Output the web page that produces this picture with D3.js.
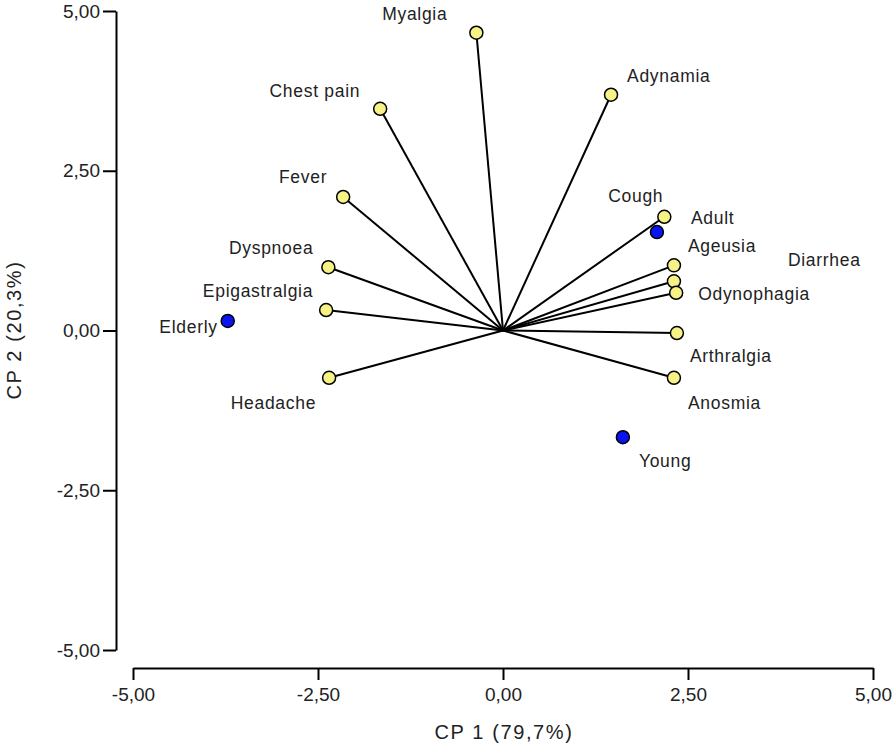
<!DOCTYPE html>
<html>
<head>
<meta charset="utf-8">
<script src="https://cdn.jsdelivr.net/npm/d3@7"></script>
<style>
  body { margin: 0; background: #fff; }
  text { font-family: "Liberation Sans", Arial, sans-serif; fill: #222; }
</style>
</head>
<body>
<div id="chart"></div>
<script>
// Variable loadings (symptoms) on CP 1 / CP 2
var symptoms = ["Myalgia", "Chest pain", "Adynamia", "Fever", "Cough", "Dyspnoea", "Ageusia",
  "Diarrhea", "Odynophagia", "Epigastralgia", "Arthralgia", "Headache", "Anosmia"];
var symptomCP1 = [-0.36, -1.66, 1.46, -2.16, 2.18, -2.36, 2.31, 2.31, 2.34, -2.39, 2.35, -2.35, 2.31];
var symptomCP2 = [4.66, 3.47, 3.69, 2.09, 1.78, 0.99, 1.02, 0.77, 0.59, 0.32, -0.04, -0.74, -0.74];

// Age groups (scores)
var groups = ["Elderly", "Adult", "Young"];
var groupCP1 = [-3.72, 2.08, 1.62];
var groupCP2 = [0.15, 1.54, -1.67];

// Axis ticks
var tickValues = [-5, -2.5, 0, 2.5, 5];

// Label placement relative to each point: [dx, dy, anchor]
var labelOffset = {
  "Myalgia": [-29, -13, "end"],
  "Chest pain": [-20, -12, "end"],
  "Adynamia": [16, -13, "start"],
  "Fever": [-16, -14, "end"],
  "Cough": [-1, -15, "end"],
  "Dyspnoea": [-15, -13, "end"],
  "Ageusia": [14, -13, "start"],
  "Diarrhea": [114, -15, "start"],
  "Odynophagia": [22, 7, "start"],
  "Epigastralgia": [-13, -13, "end"],
  "Arthralgia": [13, 29, "start"],
  "Headache": [-13, 31, "end"],
  "Anosmia": [14, 31, "start"],
  "Elderly": [-10, 12, "end"],
  "Adult": [34, -8, "start"],
  "Young": [16, 30, "start"]
};

var width = 896, height = 746;

var svg = d3.select("#chart")
  .append("svg")
  .attr("width", width)
  .attr("height", height);

var xScale = d3.scaleLinear().domain([-5, 5]).range([133, 873]);
var yScale = d3.scaleLinear().domain([-5, 5]).range([650, 11]);

// comma decimal, plain hyphen minus
var locale = d3.formatLocale({ decimal: ",", thousands: ".", grouping: [3], currency: ["", ""], minus: "-" });
var fmt = locale.format(".2f");

// Axes (offset, not crossing)
var yAxis = svg.append("g")
  .attr("transform", "translate(116,0)")
  .call(d3.axisLeft(yScale).tickValues(tickValues).tickFormat(fmt).tickSize(13).tickSizeOuter(0).tickPadding(3));

var xAxis = svg.append("g")
  .attr("transform", "translate(0,668)")
  .call(d3.axisBottom(xScale).tickValues(tickValues).tickFormat(fmt).tickSize(12).tickSizeOuter(0).tickPadding(8));

[xAxis, yAxis].forEach(function(ax) {
  ax.select(".domain").attr("stroke", "#000").attr("stroke-width", 2);
  ax.selectAll(".tick line").attr("stroke", "#000").attr("stroke-width", 2);
  ax.selectAll(".tick text").style("font-size", "19px").attr("fill", "#222");
});

// Axis titles
svg.append("text")
  .attr("x", 504)
  .attr("y", 739)
  .attr("text-anchor", "middle")
  .style("font-size", "20px")
  .style("letter-spacing", "1.6px")
  .text("CP 1 (79,7%)");

svg.append("text")
  .attr("transform", "translate(21,330) rotate(-90)")
  .attr("text-anchor", "middle")
  .style("font-size", "20px")
  .style("letter-spacing", "1.6px")
  .text("CP 2 (20,3%)");

var symptomData = symptoms.map(function(s, i) {
  return { name: s, x: symptomCP1[i], y: symptomCP2[i] };
});
var groupData = groups.map(function(g, i) {
  return { name: g, x: groupCP1[i], y: groupCP2[i] };
});

// Vectors from origin to each symptom
svg.selectAll(".vector")
  .data(symptomData)
  .enter().append("line")
  .attr("class", "vector")
  .attr("x1", xScale(0))
  .attr("y1", yScale(0))
  .attr("x2", function(d) { return xScale(d.x); })
  .attr("y2", function(d) { return yScale(d.y); })
  .attr("stroke", "#000")
  .attr("stroke-width", 2);

svg.selectAll(".symptom")
  .data(symptomData)
  .enter().append("circle")
  .attr("class", "symptom")
  .attr("cx", function(d) { return xScale(d.x); })
  .attr("cy", function(d) { return yScale(d.y); })
  .attr("r", 6.5)
  .attr("fill", "#f7f285")
  .attr("stroke", "#000")
  .attr("stroke-width", 1.5);

svg.selectAll(".group")
  .data(groupData)
  .enter().append("circle")
  .attr("class", "group")
  .attr("cx", function(d) { return xScale(d.x); })
  .attr("cy", function(d) { return yScale(d.y); })
  .attr("r", 6.5)
  .attr("fill", "#0a14f0")
  .attr("stroke", "#000")
  .attr("stroke-width", 1.5);

// Labels
svg.selectAll(".label")
  .data(symptomData.concat(groupData))
  .enter().append("text")
  .attr("class", "label")
  .attr("x", function(d) { return xScale(d.x) + labelOffset[d.name][0]; })
  .attr("y", function(d) { return yScale(d.y) + labelOffset[d.name][1]; })
  .attr("text-anchor", function(d) { return labelOffset[d.name][2]; })
  .style("font-size", "17.5px")
  .style("letter-spacing", "0.7px")
  .text(function(d) { return d.name; });
</script>
</body>
</html>
